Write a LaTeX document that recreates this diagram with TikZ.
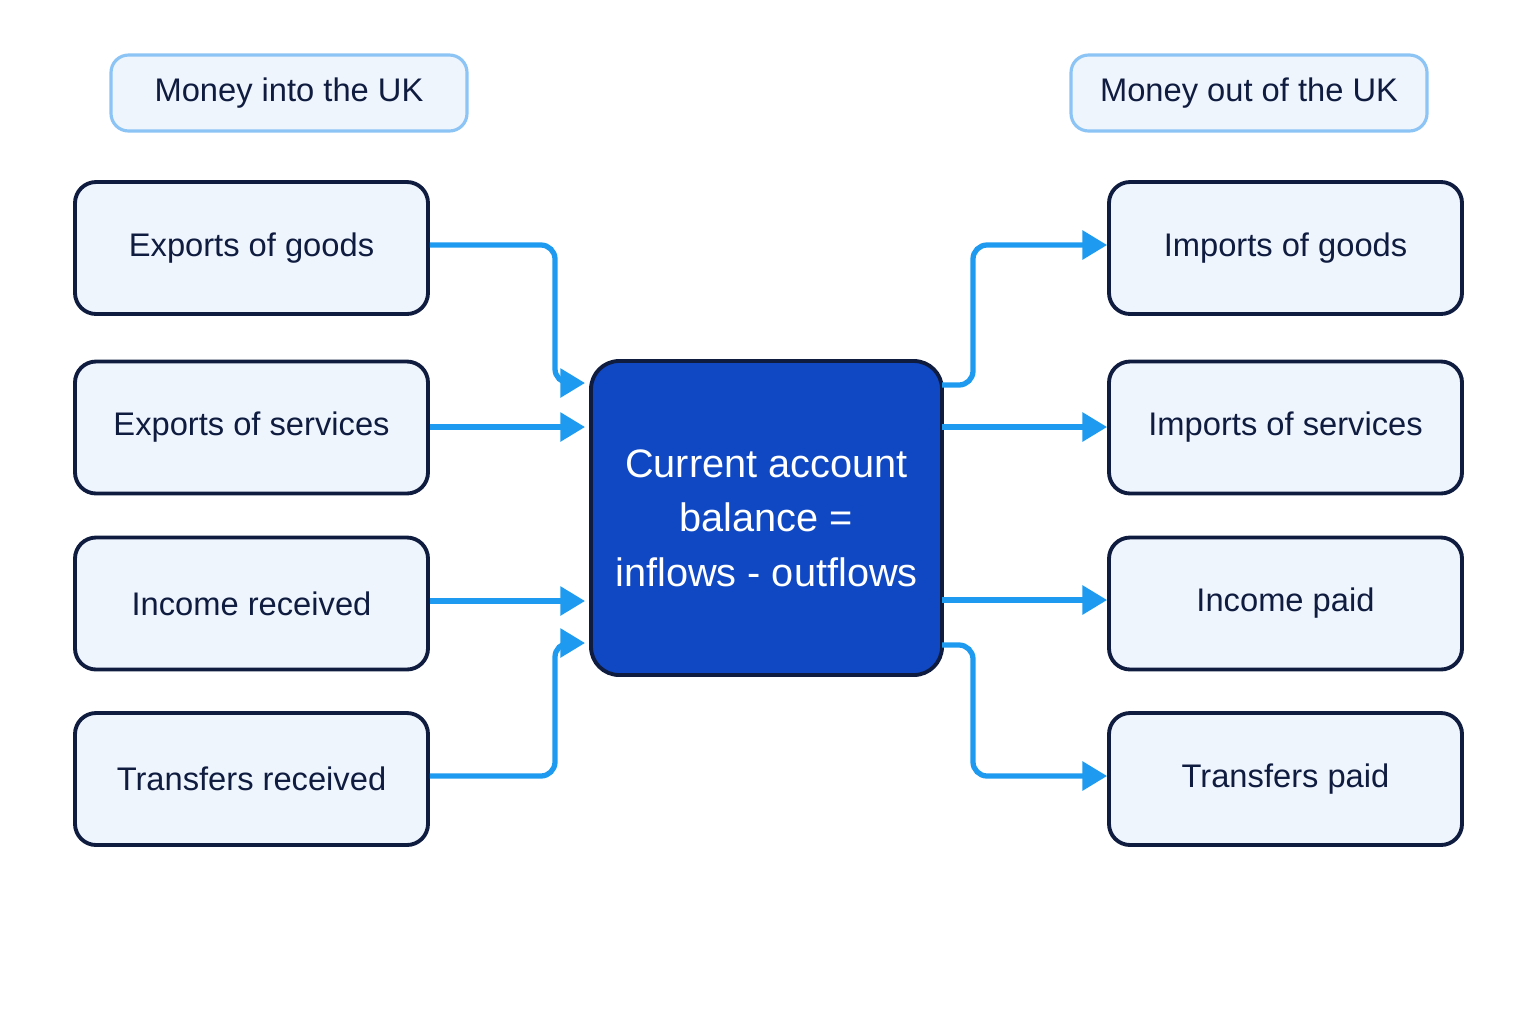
\documentclass[tikz,border=0pt]{standalone}
\usepackage{fontspec}
\setmainfont{Liberation Sans}
\usetikzlibrary{arrows.meta}
\definecolor{boxfill}{HTML}{EFF5FD}
\definecolor{boxline}{HTML}{0F1C40}
\definecolor{headline}{HTML}{8CC4F5}
\definecolor{centerfill}{HTML}{1048C4}
\definecolor{flow}{HTML}{1E9BF0}
\tikzset{
  item/.style={draw=boxline, fill=boxfill, line width=1.1pt, rounded corners=6pt,
    minimum width=3.53cm, minimum height=1.32cm, font=\fontsize{9.3}{12}\selectfont, text=boxline},
  head/.style={draw=headline, fill=boxfill, line width=0.9pt, rounded corners=5pt,
    minimum width=3.56cm, minimum height=0.76cm, font=\fontsize{9.3}{12}\selectfont, text=boxline},
  flow/.style={draw=flow, line width=1.5pt, rounded corners=4pt, -{Triangle[length=7pt,width=8pt]}}
}
\begin{document}
\begin{tikzpicture}
\useasboundingbox (0,0) rectangle (15.36,-10.24);

\node[head] (hin) at (2.89,-0.93) {Money into the UK};
\node[head] (hout) at (12.49,-0.93) {Money out of the UK};

\node[item] (eg) at (2.515,-2.48) {Exports of goods};
\node[item] (es) at (2.515,-4.275) {Exports of services};
\node[item] (ir) at (2.515,-6.035) {Income received};
\node[item] (tr) at (2.515,-7.79) {Transfers received};

\node[item] (ig) at (12.855,-2.48) {Imports of goods};
\node[item] (is) at (12.855,-4.275) {Imports of services};
\node[item] (ip) at (12.855,-6.035) {Income paid};
\node[item] (tp) at (12.855,-7.79) {Transfers paid};

\node[draw=boxline, fill=centerfill, line width=1.1pt, rounded corners=8pt,
  minimum width=3.51cm, minimum height=3.14cm, text=white, align=center,
  font=\fontsize{11.3}{15.5}\selectfont] (cab) at (7.665,-5.18)
  {Current account\\balance =\\inflows - outflows};

% entry and exit points on the centre box
\coordinate (c1) at (5.85,-3.83);
\coordinate (c2) at (5.85,-4.27);
\coordinate (c3) at (5.85,-6.01);
\coordinate (c4) at (5.85,-6.43);
\coordinate (d1) at (9.42,-3.85);
\coordinate (d2) at (9.42,-4.27);
\coordinate (d3) at (9.42,-6.0);
\coordinate (d4) at (9.42,-6.45);

\draw[flow] (eg.east |- 0,-2.45) -- (5.55,-2.45) -- (5.55,-3.83) -- (c1);
\draw[flow] (es.east |- c2) -- (c2);
\draw[flow] (ir.east |- c3) -- (c3);
\draw[flow] (tr.east |- 0,-7.76) -- (5.55,-7.76) -- (5.55,-6.43) -- (c4);

\draw[flow] (d1) -- (9.73,-3.85) -- (9.73,-2.45) -- (ig.west |- 0,-2.45);
\draw[flow] (d2) -- (is.west |- d2);
\draw[flow] (d3) -- (ip.west |- d3);
\draw[flow] (d4) -- (9.73,-6.45) -- (9.73,-7.76) -- (tp.west |- 0,-7.76);
\end{tikzpicture}
\end{document}
